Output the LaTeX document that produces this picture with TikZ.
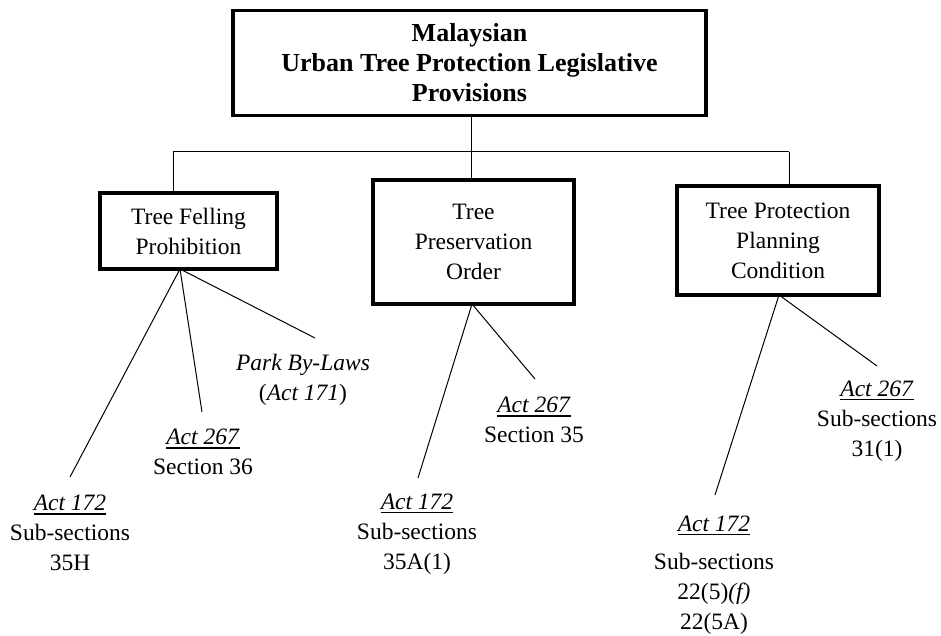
\documentclass[tikz,border=0pt]{standalone}
\usepackage{fontspec}
\setmainfont{Liberation Serif}
\newcommand{\actu}[1]{\setbox0\hbox{\textit{#1}}\rlap{\rule[-4pt]{\wd0}{1.4pt}}\box0}
\begin{document}
\begin{tikzpicture}[x=1pt,y=-1pt,
  titlebox/.style={draw, line width=3.8pt, minimum width=473pt, minimum height=105pt, inner sep=0pt, align=center,
    font=\fontsize{26}{30}\selectfont\bfseries},
  catbox/.style={draw, line width=3.4pt, inner sep=0pt, align=center, font=\fontsize{23.5}{30}\selectfont},
  leaf/.style={align=center, inner sep=0pt, font=\fontsize{23.5}{30}\selectfont},
  conn/.style={line width=1pt}]
\useasboundingbox (0,0) rectangle (941,636);

\node[titlebox] (top) at (469.5,63) {Malaysian\\Urban Tree Protection Legislative\\Provisions};

\node[catbox, minimum width=177pt, minimum height=76pt] (fell) at (188.5,231) {Tree Felling\\Prohibition};
\node[catbox, minimum width=201pt, minimum height=124pt] (pres) at (473.5,242) {Tree\\Preservation\\Order};
\node[catbox, minimum width=202pt, minimum height=109pt] (plan) at (778,240.5) {Tree Protection\\Planning\\Condition};

% bus
\coordinate (busL) at (173,152);
\coordinate (busR) at (789,152);
\coordinate (busM) at (471.5,152);
\draw[conn] (top.south -| busM) -- (busM);
\draw[conn] (busL) -- (busR);
\draw[conn] (busL) -- (busL |- fell.north);
\draw[conn] (busM) -- (busM |- pres.north);
\draw[conn] (busR) -- (busR |- plan.north);

% leaves
\node[leaf] (l1) at (70,533) {\actu{Act 172}\\Sub-sections\\35H};
\node[leaf] (l2) at (203,452) {\actu{Act 267}\\Section 36};
\node[leaf] (l3) at (303,380) {\textit{Park By-Laws}\\(\textit{Act 171})};
\node[leaf] (m1) at (417,534) {\actu{Act 172}\\Sub-sections\\35A(1)};
\node[leaf] (m2) at (534,420) {\actu{Act 267}\\Section 35};
\node[leaf] (r1) at (714,575) {\actu{Act 172}\\[8pt]Sub-sections\\22(5)\textit{(f)}\\22(5A)};
\node[leaf] (r2) at (877,421) {\actu{Act 267}\\Sub-sections\\31(1)};

\coordinate (fa) at (180,269);
\coordinate (pa) at (472,304);
\coordinate (ra) at (779,295);
\coordinate (e1) at (70,477);
\coordinate (e2) at (202,412);
\coordinate (e3) at (315,338);
\coordinate (f1) at (418,478);
\coordinate (f2) at (535,379);
\coordinate (g1) at (715,495);
\coordinate (g2) at (877,366);

\draw[conn] (fa) -- (e1);
\draw[conn] (fa) -- (e2);
\draw[conn] (fa) -- (e3);
\draw[conn] (pa) -- (f1);
\draw[conn] (pa) -- (f2);
\draw[conn] (ra) -- (g1);
\draw[conn] (ra) -- (g2);
\end{tikzpicture}
\end{document}
